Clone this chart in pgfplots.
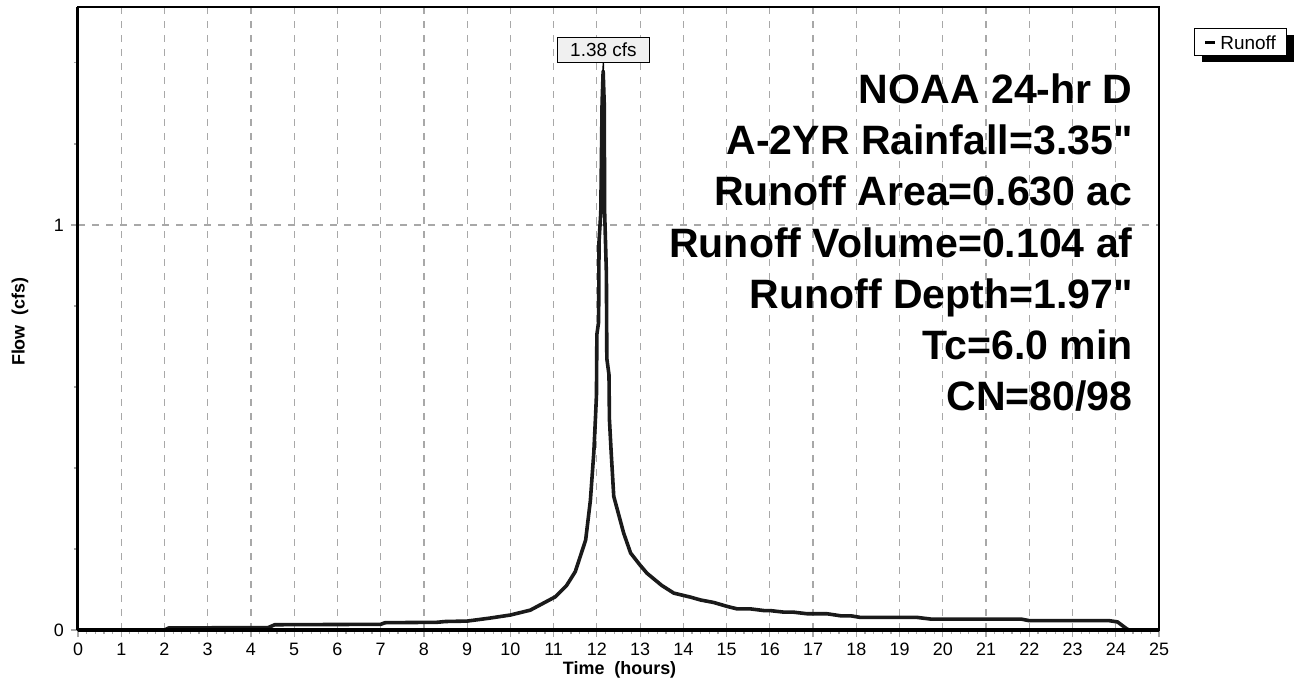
\documentclass[border=0pt]{standalone}
\usepackage{fontspec}
\setmainfont{Liberation Sans}[Ligatures=TeXOff]
\usepackage{pgfplots}
\pgfplotsset{compat=1.18}
\usetikzlibrary{shadows}
\definecolor{gridgray}{HTML}{A8A8A8}
\definecolor{curvecol}{HTML}{1A1A1A}
\begin{document}
\begin{tikzpicture}
\useasboundingbox (-39bp,-27bp) rectangle (608bp,315bp);
\begin{axis}[
  at={(0,0)}, anchor=south west,
  scale only axis, width=540.5bp, height=311.5bp,
  xmin=0, xmax=25, ymin=0, ymax=1.538,
  xtick={0,1,...,25}, ytick={0,1},
  minor x tick num=4,
  minor ytick={0.2,0.4,0.6,0.8,1.2,1.4},
  xtick pos=lower, ytick pos=left,
  tick align=outside,
  major tick length=3.5bp, minor tick length=2bp,
  every tick/.style={gridgray, line width=0.6bp},
  xmajorgrids, ymajorgrids,
  major grid style={gridgray, dash pattern=on 3.5bp off 3.5bp, line width=0.6bp},
  axis line style={black, line width=0.7bp},
  /pgf/number format/assume math mode=true,
  ticklabel style={font=\fontsize{9}{10}\selectfont},
  xticklabel style={yshift=0.5bp},
  xlabel={Time\ \ (hours)},
  ylabel={Flow\ \ (cfs)},
  xlabel style={at={(axis description cs:0.501,-0.064)}, anchor=center, font=\bfseries\fontsize{9}{10}\selectfont},
  ylabel style={at={(axis description cs:-0.0537,0.495)}, anchor=center, font=\bfseries\fontsize{9}{10}\selectfont},
  clip=false,
]
\addplot[curvecol, line width=1.8bp, line join=round] coordinates {
(0,0) (2.0,0) (2.1,0.005) (4.4,0.006) (4.55,0.013) (7.0,0.014) (7.1,0.018)
(8.3,0.019) (8.5,0.021) (9.0,0.022) (9.5,0.029) (10.0,0.037) (10.46,0.049)
(11.04,0.082) (11.3,0.11) (11.5,0.144) (11.74,0.222) (11.85,0.32) (11.93,0.44)
(11.97,0.53) (11.99,0.58) (12.00,0.73) (12.04,0.76) (12.05,0.96) (12.09,1.03)
(12.12,1.30) (12.145,1.38) (12.17,1.30) (12.18,1.03) (12.22,0.88) (12.23,0.67) (12.28,0.63) (12.29,0.52)
(12.33,0.44) (12.39,0.33) (12.62,0.239) (12.78,0.19) (13.0,0.16) (13.16,0.14)
(13.5,0.11) (13.78,0.091) (14.17,0.081) (14.4,0.074) (14.7,0.068) (15.02,0.058)
(15.25,0.052) (15.56,0.052) (15.86,0.048) (16.0,0.048) (16.33,0.044) (16.55,0.044)
(16.87,0.040) (17.33,0.040) (17.64,0.035) (17.87,0.035) (18.1,0.031) (19.41,0.031)
(19.72,0.027) (21.81,0.027) (22.0,0.023) (23.85,0.023) (24.04,0.020) (24.24,0.004)
(24.3,0) (25,0)
};
\draw[black, line width=1.5bp] (rel axis cs:0,0) -- (rel axis cs:0,1);
\draw[black, line width=1.6bp] (rel axis cs:0,0) -- (rel axis cs:1,0);
\node[draw=black, line width=0.8bp, fill=black!6, minimum width=46bp, minimum height=12.5bp,
  inner sep=0pt, font=\fontsize{9.5}{10}\selectfont] (pk) at (axis cs:12.15,1.432) {1.38 cfs};
\draw[black, line width=0.8bp] (axis cs:12.145,1.38) -- (pk.south);
\node[anchor=north west, draw=black, line width=0.6bp, fill=white, inner xsep=2.5bp, inner ysep=2.2bp,
  minimum width=46bp, minimum height=13.5bp,
  font=\fontsize{9.5}{10}\selectfont,
  drop shadow={shadow xshift=3.5bp, shadow yshift=-3bp, fill=black, opacity=1}]
  at (rel axis cs:1.0324,0.966) {\rule[2.6bp]{5bp}{1.6bp}\hspace{2.5bp}Runoff\hspace{1bp}};
\begin{scope}[every node/.style={anchor=base east, font=\bfseries\fontsize{20.6}{24}\selectfont, inner sep=0pt}]
\node at (axis cs:24.4,1.2988) {NOAA 24-hr D};
\node at (axis cs:24.4,1.1728) {A-2YR Rainfall=3.35"};
\node at (axis cs:24.4,1.0469) {Runoff Area=0.630 ac};
\node at (axis cs:24.4,0.9185) {Runoff Volume=0.104 af};
\node at (axis cs:24.4,0.7926) {Runoff Depth=1.97"};
\node at (axis cs:24.4,0.6667) {Tc=6.0 min};
\node at (axis cs:24.4,0.5407) {CN=80/98};
\end{scope}
\end{axis}
\end{tikzpicture}
\end{document}
